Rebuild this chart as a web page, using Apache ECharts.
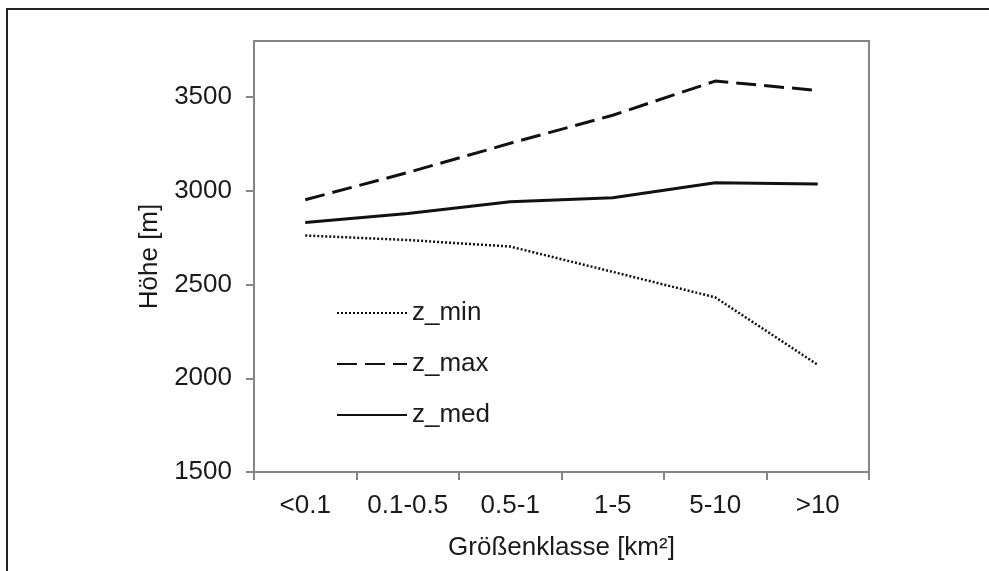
<!DOCTYPE html>
<html>
<head>
<meta charset="utf-8">
<script src="https://cdn.jsdelivr.net/npm/echarts@6/dist/echarts.min.js"></script>
<style>html,body{margin:0;padding:0;background:#fff;}#c{width:989px;height:571px;}</style>
</head>
<body>
<div id="c"></div>
<script>
const categories = ['<0.1', '0.1-0.5', '0.5-1', '1-5', '5-10', '>10'];
const zMin = [2762, 2738, 2703, 2568, 2432, 2072];
const zMax = [2953, 3098, 3254, 3404, 3586, 3536];
const zMed = [2832, 2880, 2942, 2964, 3043, 3037];
const yTicks = [1500, 2000, 2500, 3000, 3500];

const FONT = 'Liberation Sans, Arial, sans-serif';
const axisGray = '#858585';
const txt = '#1a1a1a';
const chart = echarts.init(document.getElementById('c'));
chart.setOption({
  animation: false,
  backgroundColor: '#fff',
  graphic: [{
    type: 'rect',
    shape: { x: 7, y: 9, width: 1000, height: 600 },
    style: { fill: 'none', stroke: '#222', lineWidth: 2 },
    silent: true
  }],
  grid: {
    left: 254, top: 41, right: 120, bottom: 99,
    show: true, borderColor: axisGray, borderWidth: 2, backgroundColor: 'transparent'
  },
  legend: {
    orient: 'vertical',
    left: 331, top: 295,
    itemWidth: 70, itemHeight: 14, itemGap: 25,
    itemStyle: { color: 'transparent', borderWidth: 0, opacity: 0 },
    textStyle: { fontSize: 26, fontFamily: FONT, color: txt },
    data: ['z_min', 'z_max', 'z_med']
  },
  xAxis: {
    type: 'category',
    data: categories,
    boundaryGap: true,
    name: 'Größenklasse [km²]',
    nameLocation: 'middle',
    nameGap: 63,
    nameTextStyle: { fontSize: 26, fontFamily: FONT, color: txt },
    axisLine: { lineStyle: { color: axisGray, width: 2 } },
    axisTick: { show: true, interval: 0, length: 8, lineStyle: { color: axisGray, width: 2 } },
    axisLabel: { interval: 0, hideOverlap: false, fontSize: 26, fontFamily: FONT, color: txt, margin: 21 },
    splitLine: { show: false }
  },
  yAxis: {
    type: 'value',
    min: 1500, max: 3800, interval: 500,
    name: 'Höhe [m]',
    nameLocation: 'middle',
    nameGap: 58,
    nameTextStyle: { fontSize: 26, fontFamily: FONT, color: txt },
    axisLine: { show: true, lineStyle: { color: axisGray, width: 2 } },
    axisTick: { show: true, length: 8, lineStyle: { color: axisGray, width: 2 }, customValues: yTicks },
    axisLabel: { fontSize: 26, fontFamily: FONT, color: txt, margin: 22, customValues: yTicks,
      formatter: function (v) { return String(v); } },
    splitLine: { show: false }
  },
  series: [
    {
      name: 'z_min', type: 'line', data: zMin, symbol: 'none',
      lineStyle: { color: '#111', width: 2.5, type: [2, 2] },
      itemStyle: { color: '#111' }
    },
    {
      name: 'z_max', type: 'line', data: zMax, symbol: 'none',
      lineStyle: { color: '#111', width: 3, type: [20, 8] },
      itemStyle: { color: '#111' }
    },
    {
      name: 'z_med', type: 'line', data: zMed, symbol: 'none',
      lineStyle: { color: '#111', width: 3 },
      itemStyle: { color: '#111' }
    }
  ]
});
</script>
</body>
</html>
